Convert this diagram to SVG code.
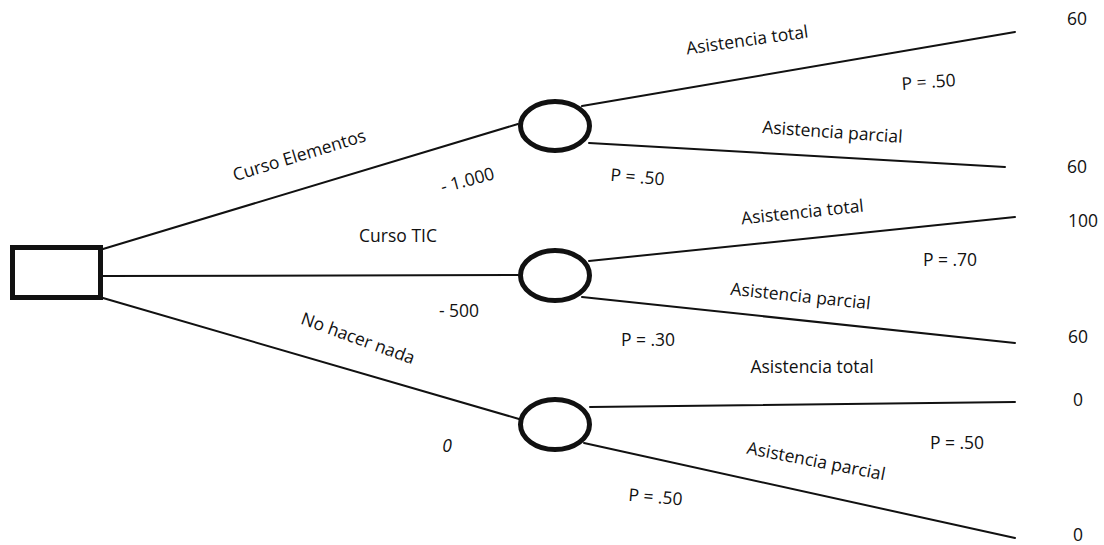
<svg xmlns="http://www.w3.org/2000/svg" width="1104" height="545" viewBox="0 0 1104 545">
  <style>
    .edge { stroke: #111; stroke-width: 2; fill: none; stroke-linecap: round; }
    .decision { fill: #fff; stroke: #111; stroke-width: 5; }
    .chance { fill: #fff; stroke: #111; stroke-width: 5; }
    .lbl { font-family: "Open Sans", "Liberation Sans", sans-serif; font-size: 17.5px; fill: #111; text-anchor: middle; }
    .it { font-style: italic; }
  </style>
  <rect width="1104" height="545" fill="#fff"/>

  <!-- branches -->
  <g id="connectors">
    <line class="edge" x1="103" y1="249" x2="518" y2="124"/>
    <line class="edge" x1="103" y1="276" x2="518" y2="275"/>
    <line class="edge" x1="103" y1="298" x2="519" y2="419"/>
    <line class="edge" x1="582" y1="106" x2="1015" y2="32"/>
    <line class="edge" x1="589" y1="143" x2="1005" y2="167"/>
    <line class="edge" x1="589" y1="261" x2="1015" y2="217"/>
    <line class="edge" x1="582" y1="297" x2="1015" y2="343"/>
    <line class="edge" x1="590" y1="407" x2="1015" y2="402"/>
    <line class="edge" x1="584" y1="443" x2="1015" y2="538"/>
  </g>

  <!-- decision node -->
  <g id="decision">
    <rect class="decision" x="12.5" y="247.5" width="88" height="50"/>
  </g>

  <!-- chance nodes -->
  <g id="chance-elementos">
    <ellipse class="chance" cx="555" cy="126" rx="34.5" ry="24.5"/>
  </g>
  <g id="chance-tic">
    <ellipse class="chance" cx="555" cy="275.5" rx="34.5" ry="25"/>
  </g>
  <g id="chance-nada">
    <ellipse class="chance" cx="555" cy="424.5" rx="34.5" ry="25"/>
  </g>

  <!-- alternatives and costs -->
  <g id="labels-alternatives">
    <text class="lbl" transform="translate(301,161) rotate(-17)">Curso Elementos</text>
    <text class="lbl" transform="translate(469,186) rotate(-15)">- 1.000</text>
    <text class="lbl" x="398" y="242">Curso TIC</text>
    <text class="lbl" x="459" y="317">- 500</text>
    <text class="lbl" transform="translate(356,344) rotate(20)">No hacer nada</text>
    <text class="lbl it" x="447" y="452">0</text>
  </g>

  <!-- outcomes and probabilities -->
  <g id="labels-outcomes">
    <text class="lbl" transform="translate(748,46) rotate(-8)">Asistencia total</text>
    <text class="lbl" transform="translate(929,88) rotate(-4)">P = .50</text>
    <text class="lbl" transform="translate(832,138) rotate(4)">Asistencia parcial</text>
    <text class="lbl" transform="translate(637,183) rotate(5)">P = .50</text>

    <text class="lbl" transform="translate(803,218) rotate(-6)">Asistencia total</text>
    <text class="lbl" x="950" y="266">P = .70</text>
    <text class="lbl" transform="translate(800,302) rotate(6)">Asistencia parcial</text>
    <text class="lbl" x="648" y="346">P = .30</text>

    <text class="lbl" x="812" y="373">Asistencia total</text>
    <text class="lbl" x="957" y="449">P = .50</text>
    <text class="lbl" transform="translate(815,467) rotate(11)">Asistencia parcial</text>
    <text class="lbl" transform="translate(655,503) rotate(5)">P = .50</text>
  </g>

  <!-- payoffs -->
  <g id="payoffs">
    <text class="lbl" x="1077" y="25">60</text>
    <text class="lbl" x="1077" y="173">60</text>
    <text class="lbl" x="1083" y="227">100</text>
    <text class="lbl" x="1078" y="343">60</text>
    <text class="lbl" x="1078" y="406">0</text>
    <text class="lbl" x="1078" y="541">0</text>
  </g>
</svg>
